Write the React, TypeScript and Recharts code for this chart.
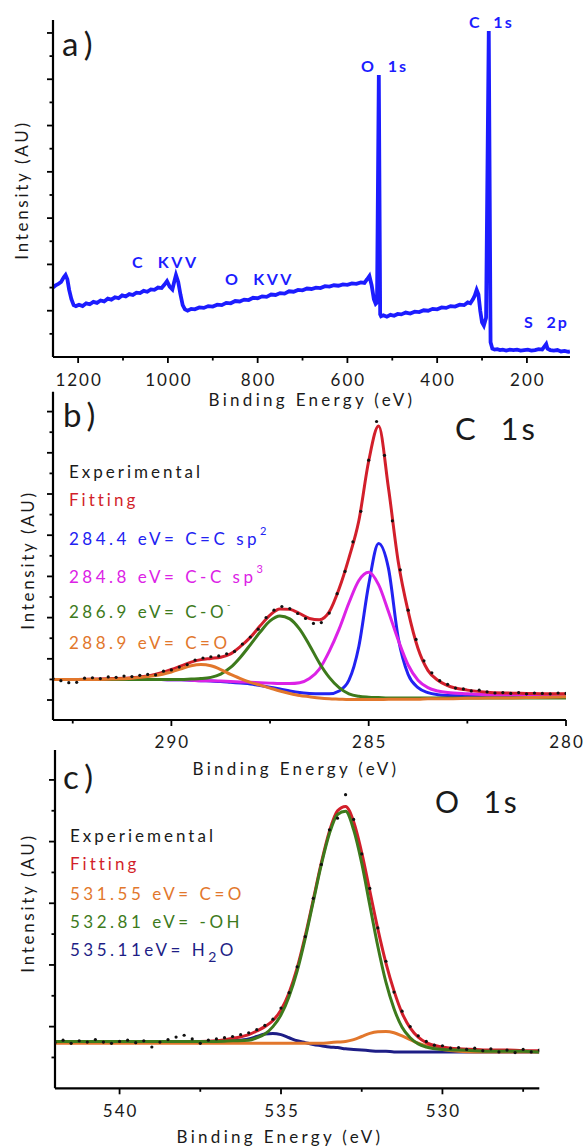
import React from 'react';
import { ComposedChart, Line, XAxis, YAxis } from 'recharts';

const FONT = 'Lato, "Open Sans", "DejaVu Sans", sans-serif';

// ---------- a) survey spectrum ----------
const surveyEnergy = [
  1256, 1250, 1244, 1238, 1232, 1228, 1224, 1220, 1215, 1210,
  1205, 1198, 1190, 1182, 1174, 1166, 1158, 1150, 1142, 1134,
  1126, 1118, 1110, 1102, 1094, 1086, 1078, 1070, 1062, 1054,
  1046, 1038, 1030, 1022, 1014, 1008, 1002, 996, 990, 986,
  982, 977, 972, 967, 962, 956, 948, 940, 930, 920,
  910, 900, 890, 880, 870, 860, 850, 840, 830, 820,
  810, 800, 790, 780, 770, 760, 750, 740, 730, 720,
  710, 700, 690, 680, 670, 660, 650, 640, 630, 620,
  610, 600, 590, 580, 570, 562, 556, 551, 546, 541,
  537, 534, 530, 527, 525, 520, 512, 504, 496, 488,
  480, 470, 460, 450, 440, 430, 420, 410, 400, 390,
  380, 370, 360, 350, 340, 332, 326, 320, 316, 312,
  308, 304, 300, 296, 291, 285, 281, 277, 272, 266,
  260, 254, 246, 238, 230, 222, 214, 206, 198, 190,
  182, 174, 166, 160, 157, 154, 148, 140, 132, 124,
  116, 108, 104,
];
const surveyIntensity = [
  1.50, 1.55, 1.58, 1.62, 1.72, 1.77, 1.68, 1.45, 1.25, 1.12,
  1.10, 1.13, 1.10, 1.16, 1.14, 1.19, 1.17, 1.22, 1.20, 1.26,
  1.24, 1.29, 1.27, 1.33, 1.31, 1.36, 1.34, 1.39, 1.38, 1.43,
  1.41, 1.46, 1.45, 1.50, 1.49, 1.56, 1.64, 1.52, 1.46, 1.62,
  1.77, 1.62, 1.35, 1.12, 1.03, 1.00, 1.04, 1.03, 1.07, 1.06,
  1.10, 1.09, 1.13, 1.12, 1.17, 1.16, 1.21, 1.20, 1.24, 1.23,
  1.28, 1.27, 1.31, 1.30, 1.35, 1.34, 1.38, 1.37, 1.42, 1.41,
  1.45, 1.44, 1.48, 1.47, 1.50, 1.49, 1.53, 1.52, 1.55, 1.54,
  1.57, 1.56, 1.59, 1.58, 1.61, 1.60, 1.68, 1.75, 1.55, 1.25,
  1.15, 1.18, 6.09, 0.92, 0.88, 0.90, 0.87, 0.91, 0.89, 0.93,
  0.92, 0.96, 0.94, 0.98, 0.97, 1.01, 1.00, 1.04, 1.03, 1.07,
  1.06, 1.10, 1.09, 1.13, 1.12, 1.18, 1.16, 1.25, 1.33, 1.45,
  1.35, 1.00, 0.75, 0.68, 0.85, 7.04, 0.32, 0.18, 0.16, 0.17,
  0.15, 0.16, 0.14, 0.16, 0.15, 0.16, 0.14, 0.15, 0.16, 0.14,
  0.15, 0.17, 0.16, 0.24, 0.28, 0.18, 0.15, 0.14, 0.15, 0.12,
  0.13, 0.11, 0.12,
];
const surveyXTicks = [1200, 1100, 1000, 900, 800, 700, 600, 500, 400, 300, 200];
const surveyYTicks = [0.5, 1, 1.5, 2, 2.5, 3, 3.5, 4, 4.5, 5, 5.5, 6, 6.5, 7];

// ---------- b) C 1s ----------
const c1sEnergy = [
  293, 292.5, 292, 291.5, 291, 290.5, 290, 289.75, 289.5, 289.25,
  289, 288.75, 288.5, 288.25, 288, 287.75, 287.5, 287.25, 287, 286.75,
  286.5, 286.25, 286, 285.75, 285.5, 285.25, 285, 284.75, 284.5, 284.25,
  284, 283.75, 283.5, 283.25, 283, 282.5, 282, 281.5, 281, 280.5, 280,
];
const c1sFit = [
  0.50, 0.50, 0.51, 0.52, 0.54, 0.60, 0.74, 0.83, 0.92, 0.98,
  1.01, 1.04, 1.12, 1.30, 1.52, 1.80, 2.06, 2.21, 2.20, 2.10,
  1.98, 1.95, 2.14, 2.70, 3.45, 4.35, 5.80, 6.65, 5.15, 3.35,
  2.15, 1.25, 0.72, 0.48, 0.35, 0.24, 0.19, 0.17, 0.16, 0.15, 0.15,
];
const c1sSp2 = [
  0.50, 0.50, 0.50, 0.50, 0.50, 0.50, 0.49, 0.49, 0.48, 0.47,
  0.46, 0.45, 0.43, 0.41, 0.39, 0.35, 0.31, 0.27, 0.22, 0.18,
  0.16, 0.15, 0.15, 0.22, 0.48, 1.30, 2.80, 3.80, 3.20, 1.50,
  0.62, 0.30, 0.18, 0.13, 0.11, 0.10, 0.10, 0.10, 0.10, 0.10, 0.10,
];
const c1sSp3 = [
  0.50, 0.50, 0.50, 0.50, 0.50, 0.50, 0.49, 0.49, 0.48, 0.47,
  0.47, 0.46, 0.45, 0.44, 0.43, 0.42, 0.41, 0.40, 0.40, 0.42,
  0.52, 0.75, 1.18, 1.72, 2.36, 2.90, 3.10, 2.80, 2.15, 1.45,
  0.85, 0.48, 0.30, 0.22, 0.18, 0.15, 0.13, 0.12, 0.12, 0.12, 0.12,
];
const c1sCO = [
  0.50, 0.50, 0.50, 0.50, 0.50, 0.50, 0.50, 0.50, 0.51, 0.52,
  0.55, 0.63, 0.79, 1.04, 1.34, 1.65, 1.92, 2.04, 1.97, 1.72,
  1.33, 0.90, 0.55, 0.30, 0.15, 0.09, 0.07, 0.06, 0.05, 0.05,
  0.05, 0.05, 0.05, 0.05, 0.05, 0.05, 0.05, 0.05, 0.05, 0.05, 0.05,
];
const c1sCdO = [
  0.50, 0.50, 0.50, 0.51, 0.53, 0.58, 0.68, 0.76, 0.83, 0.86,
  0.83, 0.74, 0.62, 0.52, 0.43, 0.36, 0.29, 0.22, 0.16, 0.11,
  0.08, 0.05, 0.03, 0.02, 0.01, 0.01, 0.01, 0.01, 0.02, 0.02,
  0.02, 0.02, 0.03, 0.03, 0.03, 0.04, 0.05, 0.05, 0.06, 0.07, 0.08,
];
const c1sExpEnergy = [
  293, 292.8, 292.6, 292.4, 292.2, 292, 291.8, 291.6, 291.4, 291.2,
  291, 290.8, 290.6, 290.4, 290.2, 290, 289.8, 289.6, 289.4, 289.2,
  289, 288.8, 288.6, 288.4, 288.2, 288, 287.8, 287.6, 287.4, 287.2,
  287, 286.8, 286.6, 286.4, 286.2, 286, 285.8, 285.6, 285.4, 285.2,
  285, 284.8, 284.6, 284.4, 284.2, 284, 283.8, 283.6, 283.4, 283.2,
  283, 282.8, 282.6, 282.4, 282.2, 282, 281.8, 281.6, 281.4, 281.2,
  281, 280.8, 280.6, 280.4, 280.2, 280,
];
const c1sExp = [
  0.52, 0.47, 0.42, 0.43, 0.53, 0.54, 0.52, 0.56, 0.55, 0.58,
  0.57, 0.60, 0.62, 0.61, 0.70, 0.73, 0.80, 0.86, 0.97, 1.02,
  1.05, 1.07, 1.12, 1.18, 1.36, 1.53, 1.72, 2.00, 2.18, 2.27,
  2.22, 2.10, 1.98, 1.86, 1.88, 2.11, 2.58, 3.12, 3.84, 4.58,
  5.82, 6.76, 5.94, 4.35, 3.16, 2.18, 1.47, 0.95, 0.66, 0.47,
  0.38, 0.29, 0.27, 0.22, 0.24, 0.20, 0.17, 0.18, 0.16, 0.18,
  0.15, 0.17, 0.16, 0.15, 0.17, 0.16,
];
const c1sXTicks = [292.5, 290, 287.5, 285, 282.5, 280];
const c1sYTicks = [0, 0.5, 1, 1.5, 2, 2.5, 3, 3.5, 4, 4.5, 5, 5.5, 6, 6.5, 7];

// ---------- c) O 1s ----------
const o1sEnergy = [
  542, 541.5, 541, 540.5, 540, 539.5, 539, 538.5, 538, 537.5,
  537, 536.5, 536, 535.75, 535.5, 535.25, 535, 534.75, 534.5, 534.25,
  534, 533.75, 533.5, 533.25, 533, 532.75, 532.5, 532.25, 532, 531.75,
  531.5, 531.25, 531, 530.75, 530.5, 530, 529.5, 529, 528.5, 528,
  527.5, 527,
];
const o1sFit = [
  -0.24, -0.24, -0.24, -0.24, -0.24, -0.24, -0.24, -0.24, -0.24, -0.24,
  -0.23, -0.19, -0.13, -0.07, 0.00, 0.10, 0.27, 0.55, 0.95, 1.47,
  2.06, 2.66, 3.17, 3.50, 3.57, 3.32, 2.82, 2.20, 1.58, 1.03,
  0.58, 0.22, -0.02, -0.17, -0.26, -0.33, -0.36, -0.37, -0.38, -0.38,
  -0.39, -0.39,
];
const o1sOH = [
  -0.24, -0.24, -0.24, -0.24, -0.24, -0.24, -0.24, -0.24, -0.24, -0.24,
  -0.24, -0.23, -0.22, -0.18, -0.12, 0.00, 0.19, 0.49, 0.90, 1.43,
  2.03, 2.63, 3.13, 3.44, 3.49, 3.19, 2.65, 1.97, 1.30, 0.72,
  0.29, -0.01, -0.18, -0.28, -0.33, -0.37, -0.38, -0.39, -0.40, -0.40,
  -0.40, -0.41,
];
const o1sH2O = [
  -0.25, -0.25, -0.25, -0.25, -0.25, -0.25, -0.25, -0.25, -0.25, -0.25,
  -0.25, -0.23, -0.20, -0.16, -0.12, -0.11, -0.13, -0.18, -0.23, -0.26,
  -0.29, -0.31, -0.33, -0.34, -0.36, -0.37, -0.38, -0.39, -0.40, -0.40,
  -0.41, -0.41, -0.41, -0.41, -0.41, -0.41, -0.41, -0.41, -0.41, -0.41,
  -0.41, -0.41,
];
const o1sCdO = [
  -0.27, -0.27, -0.27, -0.27, -0.27, -0.27, -0.27, -0.27, -0.27, -0.27,
  -0.27, -0.27, -0.27, -0.27, -0.27, -0.27, -0.27, -0.27, -0.27, -0.27,
  -0.27, -0.27, -0.26, -0.25, -0.24, -0.21, -0.16, -0.11, -0.085, -0.08,
  -0.10, -0.15, -0.21, -0.27, -0.31, -0.37, -0.40, -0.41, -0.41, -0.41,
  -0.41, -0.41,
];
const o1sExpEnergy = [
  542, 541.75, 541.5, 541.25, 541, 540.75, 540.5, 540.25, 540, 539.75,
  539.5, 539.25, 539, 538.75, 538.5, 538.25, 538, 537.75, 537.5, 537.25,
  537, 536.75, 536.5, 536.25, 536, 535.75, 535.5, 535.25, 535, 534.75,
  534.5, 534.25, 534, 533.75, 533.5, 533.25, 533, 532.75, 532.5, 532.25,
  532, 531.75, 531.5, 531.25, 531, 530.75, 530.5, 530.25, 530, 529.75,
  529.5, 529.25, 529, 528.75, 528.5, 528.25, 528, 527.75, 527.5, 527.25,
  527,
];
const o1sExp = [
  -0.26, -0.22, -0.27, -0.23, -0.25, -0.21, -0.25, -0.27, -0.24, -0.22,
  -0.26, -0.23, -0.33, -0.25, -0.21, -0.17, -0.14, -0.20, -0.27, -0.22,
  -0.20, -0.18, -0.16, -0.13, -0.10, -0.05, 0.02, 0.12, 0.30, 0.55,
  0.97, 1.46, 2.08, 2.63, 3.19, 3.38, 3.76, 3.36, 2.80, 2.24,
  1.60, 1.06, 0.56, 0.25, 0.00, -0.15, -0.24, -0.30, -0.31, -0.35,
  -0.34, -0.37, -0.35, -0.39, -0.36, -0.41, -0.38, -0.42, -0.37, -0.41,
  -0.38,
];
const o1sXTicks = [540, 537.5, 535, 532.5, 530, 527.5];
const o1sYTicks = [-0.5, 0, 0.5, 1, 1.5, 2, 2.5, 3, 3.5, 4];

const surveyRows = surveyEnergy.map((e, i) => ({ e, v: surveyIntensity[i] }));
const c1sRows = c1sEnergy.map((e, i) => ({
  e, fit: c1sFit[i], sp2: c1sSp2[i], sp3: c1sSp3[i], co: c1sCO[i], cdo: c1sCdO[i],
}));
const c1sExpRows = c1sExpEnergy.map((e, i) => ({ e, v: c1sExp[i] }));
const o1sRows = o1sEnergy.map((e, i) => ({
  e, fit: o1sFit[i], oh: o1sOH[i], h2o: o1sH2O[i], cdo: o1sCdO[i],
}));
const o1sExpRows = o1sExpEnergy.map((e, i) => ({ e, v: o1sExp[i] }));

const INK = '#1a1a1a';
const axisStyle = { stroke: '#000', strokeWidth: 2.2 };

// tick marks drawn by hand so that major/minor ticks get different lengths
const xTick = (axisY: number, labelY: number, labelled: (v: number) => boolean) => (props: any) => {
  const { x, payload } = props;
  const major = labelled(payload.value);
  return (
    <g>
      <line x1={x} x2={x} y1={axisY} y2={axisY + (major ? 6 : 3.5)} stroke="#000" strokeWidth={1.8} />
      {major && (
        <text x={x + 1} y={labelY} textAnchor="middle" fontFamily={FONT} fontSize={17} letterSpacing={2} fill={INK}>
          {payload.value}
        </text>
      )}
    </g>
  );
};

const yTick = (axisX: number) => (props: any) => {
  const { y, payload } = props;
  const major = Number.isInteger(payload.value);
  return <line x1={axisX - (major ? 6 : 3.5)} x2={axisX} y1={y} y2={y} stroke="#000" strokeWidth={1.8} />;
};

type TxtProps = {
  x: number;
  y: number;
  size?: number;
  color?: string;
  spacing?: number;
  bold?: boolean;
  anchor?: 'start' | 'middle' | 'end';
  rotate?: boolean;
  children: React.ReactNode;
};

const Txt = ({ x, y, size = 17, color = INK, spacing = 3, bold = false, anchor = 'start', rotate = false, children }: TxtProps) => (
  <text
    x={x}
    y={y}
    fontFamily={FONT}
    fontSize={size}
    fill={color}
    letterSpacing={spacing}
    fontWeight={bold ? 700 : 400}
    textAnchor={anchor}
    transform={rotate ? `rotate(-90 ${x} ${y})` : undefined}
    xmlSpace="preserve"
    style={{ whiteSpace: 'pre' }}
  >
    {children}
  </text>
);

const SURVEY_BLUE = '#1c1cff';
const RED = '#d21f2b';
const BLUE = '#2222f2';
const MAGENTA = '#dc22e6';
const GREEN = '#3d7a1c';
const ORANGE = '#e2772c';
const NAVY = '#1e1e86';

const App: React.FC = () => {
  return (
    <div style={{ position: 'absolute', left: 0, top: 0, width: 584, height: 1146, background: '#fff' }}>
      {/* a) survey */}
      <div style={{ position: 'absolute', left: 0, top: 0 }}>
        <ComposedChart width={584} height={420} data={surveyRows} margin={{ top: 20, right: 14, bottom: 62, left: 52 }}>
          <XAxis
            type="number"
            dataKey="e"
            domain={[104, 1256]}
            reversed
            allowDataOverflow
            ticks={surveyXTicks}
            interval={0}
            height={1}
            tickLine={false}
            axisLine={axisStyle}
            tick={xTick(357, 386, (v) => v % 200 === 0)}
          />
          <YAxis
            type="number"
            domain={[0, 7.28]}
            allowDataOverflow
            ticks={surveyYTicks}
            interval={0}
            width={1}
            tickLine={false}
            axisLine={axisStyle}
            tick={yTick(53)}
          />
          <Line type="linear" dataKey="v" stroke={SURVEY_BLUE} strokeWidth={3.8} dot={false} activeDot={false} isAnimationActive={false} />
          <Txt x={62} y={56} size={33} spacing={6}>a)</Txt>
          <Txt x={132} y={268} size={16} spacing={2.5} bold color={SURVEY_BLUE}>C  KVV</Txt>
          <Txt x={225} y={285} size={16} spacing={2.5} bold color={SURVEY_BLUE}>O  KVV</Txt>
          <Txt x={361} y={72} size={16} spacing={2} bold color={SURVEY_BLUE}>O  1s</Txt>
          <Txt x={469} y={28} size={16} spacing={2} bold color={SURVEY_BLUE}>C  1s</Txt>
          <Txt x={524} y={328} size={16} spacing={2} bold color={SURVEY_BLUE}>S  2p</Txt>
          <Txt x={28} y={190} size={17} spacing={2.7} anchor="middle" rotate>Intensity (AU)</Txt>
          <Txt x={312} y={406} size={17} spacing={3.3} anchor="middle">Binding Energy (eV)</Txt>
        </ComposedChart>
      </div>

      {/* b) C 1s */}
      <div style={{ position: 'absolute', left: 0, top: 385 }}>
        <ComposedChart width={584} height={400} data={c1sRows} margin={{ top: 6.7, right: 18, bottom: 64, left: 52 }}>
          <XAxis
            type="number"
            dataKey="e"
            domain={[280, 293]}
            reversed
            allowDataOverflow
            ticks={c1sXTicks}
            interval={0}
            height={1}
            tickLine={false}
            axisLine={axisStyle}
            tick={xTick(335, 363, (v) => v % 5 === 0)}
          />
          <YAxis
            type="number"
            domain={[-0.485, 7.483]}
            allowDataOverflow
            ticks={c1sYTicks}
            interval={0}
            width={1}
            tickLine={false}
            axisLine={axisStyle}
            tick={yTick(53)}
          />
          <Line type="monotone" dataKey="sp2" stroke={BLUE} strokeWidth={3} dot={false} activeDot={false} isAnimationActive={false} />
          <Line type="monotone" dataKey="sp3" stroke={MAGENTA} strokeWidth={3} dot={false} activeDot={false} isAnimationActive={false} />
          <Line type="monotone" dataKey="co" stroke={GREEN} strokeWidth={3} dot={false} activeDot={false} isAnimationActive={false} />
          <Line type="monotone" dataKey="fit" stroke={RED} strokeWidth={3} dot={false} activeDot={false} isAnimationActive={false} />
          <Line type="monotone" dataKey="cdo" stroke={ORANGE} strokeWidth={3} dot={false} activeDot={false} isAnimationActive={false} />
          <Line
            data={c1sExpRows}
            dataKey="v"
            stroke="none"
            dot={{ r: 1.6, fill: '#111', stroke: 'none' }}
            activeDot={false}
            isAnimationActive={false}
          />
          <Txt x={63} y={42} size={33} spacing={6}>b)</Txt>
          <Txt x={455} y={55} size={31} spacing={3}>C  1s</Txt>
          <Txt x={69} y={93} size={17} spacing={3}>Experimental</Txt>
          <Txt x={69} y={121} size={17} spacing={3} color={RED}>Fitting</Txt>
          <Txt x={69} y={160} size={17} spacing={3.5} color={BLUE}>
            284.4 eV= C=C sp<tspan dy={-10} fontSize={11}>2</tspan>
          </Txt>
          <Txt x={69} y={198} size={17} spacing={3.5} color={MAGENTA}>
            284.8 eV= C-C sp<tspan dy={-10} fontSize={11}>3</tspan>
          </Txt>
          <Txt x={69} y={233} size={17} spacing={3.5} color={GREEN}>
            286.9 eV= C-O<tspan dy={-10} fontSize={9}>-</tspan>
          </Txt>
          <Txt x={69} y={264} size={17} spacing={3.5} color={ORANGE}>288.9 eV= C=O</Txt>
          <Txt x={34} y={175} size={17} spacing={2.7} anchor="middle" rotate>Intensity (AU)</Txt>
          <Txt x={296} y={390} size={17} spacing={3.3} anchor="middle">Binding Energy (eV)</Txt>
        </ComposedChart>
      </div>

      {/* c) O 1s */}
      <div style={{ position: 'absolute', left: 0, top: 745 }}>
        <ComposedChart width={584} height={401} data={o1sRows} margin={{ top: 5, right: 44.7, bottom: 56.7, left: 54 }}>
          <XAxis
            type="number"
            dataKey="e"
            domain={[527, 542]}
            reversed
            allowDataOverflow
            ticks={o1sXTicks}
            interval={0}
            height={1}
            tickLine={false}
            axisLine={axisStyle}
            tick={xTick(343.3, 372, (v) => v % 5 === 0)}
          />
          <YAxis
            type="number"
            domain={[-1.0, 4.485]}
            allowDataOverflow
            ticks={o1sYTicks}
            interval={0}
            width={1}
            tickLine={false}
            axisLine={axisStyle}
            tick={yTick(55)}
          />
          <Line type="monotone" dataKey="h2o" stroke={NAVY} strokeWidth={3} dot={false} activeDot={false} isAnimationActive={false} />
          <Line type="monotone" dataKey="cdo" stroke={ORANGE} strokeWidth={3} dot={false} activeDot={false} isAnimationActive={false} />
          <Line type="monotone" dataKey="fit" stroke={RED} strokeWidth={3} dot={false} activeDot={false} isAnimationActive={false} />
          <Line type="monotone" dataKey="oh" stroke={GREEN} strokeWidth={3} dot={false} activeDot={false} isAnimationActive={false} />
          <Line
            data={o1sExpRows}
            dataKey="v"
            stroke="none"
            dot={{ r: 1.6, fill: '#111', stroke: 'none' }}
            activeDot={false}
            isAnimationActive={false}
          />
          <Txt x={63} y={44} size={33} spacing={6}>c)</Txt>
          <Txt x={435} y={68} size={30} spacing={3}>O  1s</Txt>
          <Txt x={70} y={97} size={17} spacing={3}>Experiemental</Txt>
          <Txt x={70} y={125} size={17} spacing={3} color={RED}>Fitting</Txt>
          <Txt x={70} y={155} size={17} spacing={3.5} color={ORANGE}>531.55 eV= C=O</Txt>
          <Txt x={70} y={183} size={17} spacing={3.5} color={GREEN}>532.81 eV= -OH</Txt>
          <Txt x={70} y={211} size={17} spacing={3.5} color={NAVY}>
            535.11eV= H<tspan dy={6} fontSize={14}>2</tspan><tspan dy={-6}>O</tspan>
          </Txt>
          <Txt x={34} y={158} size={17} spacing={2.7} anchor="middle" rotate>Intensity (AU)</Txt>
          <Txt x={280} y={398} size={17} spacing={3.3} anchor="middle">Binding Energy (eV)</Txt>
        </ComposedChart>
      </div>
    </div>
  );
};

export default App;
